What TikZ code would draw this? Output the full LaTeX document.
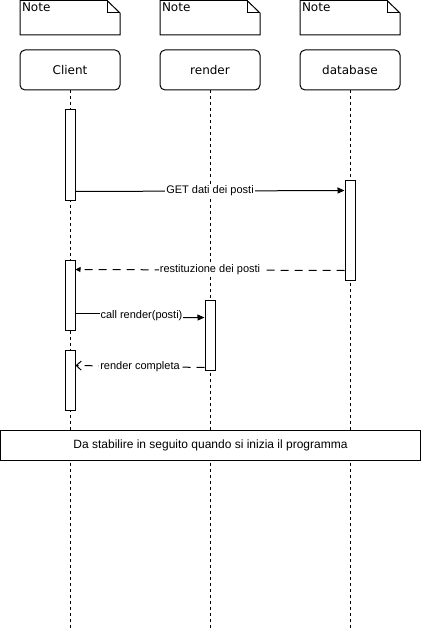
\documentclass[tikz,border=0pt]{standalone}
\usepackage{fontspec}
\setmainfont{Liberation Sans}
\newfontfamily\dvs{DejaVu Sans}
\usetikzlibrary{arrows.meta,calc}
\tikzset{
  notetext/.style={anchor=base west,inner sep=0pt,font=\dvs\fontsize{12}{14}\selectfont},
  participant/.style={draw,rounded corners=5pt,minimum width=100pt,minimum height=40pt,inner sep=0pt,font=\dvs\fontsize{12}{14}\selectfont,fill=white},
  lifeline/.style={line width=1pt,dash pattern=on 3pt off 3pt},
  activation/.style={draw,fill=white,minimum width=10pt,inner sep=0pt},
  msglabel/.style={fill=white,inner sep=1pt,font=\fontsize{11}{13}\selectfont},
  msg/.style={line width=1pt,-{Triangle[length=7pt,width=6pt]}},
  retmsg/.style={line width=1pt,dash pattern=on 8pt off 6pt,-{Triangle[length=5pt,width=5pt]}},
  openret/.style={line width=1pt,dash pattern=on 8pt off 6pt,-{Straight Barb[length=5pt,width=9pt]}},
}
\begin{document}
\begin{tikzpicture}[x=1pt,y=-1pt,line width=1pt]
\useasboundingbox (0,0) rectangle (421,631);
% notes
\foreach \x/\n in {20/n1,160/n2,300/n3}{
  \draw (\x,0.5) -- (\x+87,0.5) -- (\x+100,13) -- (\x+100,35) -- (\x,35) -- cycle;
  \draw (\x+87,0.5) -- (\x+87,13) -- (\x+100,13);
  \node[notetext] (\n) at (\x+1.5,12) {Note};
}
% lifelines
\coordinate (e1) at (70,631);
\coordinate (e2) at (210,631);
\coordinate (e3) at (350,631);
\node[participant] (p1) at (70,70) {Client};
\node[participant] (p2) at (210,70) {render};
\node[participant] (p3) at (350,70) {database};
\draw[lifeline] (p1.south) -- (e1);
\draw[lifeline] (p2.south) -- (e2);
\draw[lifeline] (p3.south) -- (e3);
% activations
\node[activation,minimum height=90pt] (a1) at (70,155) {};
\node[activation,minimum height=100pt] (a3) at (350,230) {};
\node[activation,minimum height=70pt] (a2) at (70,295) {};
\node[activation,minimum height=70pt] (r1) at (210,335) {};
\node[activation,minimum height=60pt] (a4) at (70,380) {};
% messages
\draw[msg] ([yshift=9pt]a1.south east) -- node[msglabel] (l1) {GET dati dei posti} ([yshift=-11pt]a3.north west);
\draw[retmsg] ([yshift=10pt]a3.south west) -- node[msglabel] (l2) {restituzione dei posti} ([yshift=-10pt]a2.north east);
\coordinate (c1) at (75,313);
\coordinate (c2) at (140,313);
\coordinate (c3) at (140,318);
\draw[line width=1pt] (c1) -- (c2) -- (c3);
\draw[msg] (c3) -- ([yshift=-18pt]r1.north west);
\node[msglabel,anchor=west] (l3) at (99,316) {call render(posti)};
\draw[openret] ([yshift=3pt]r1.south west) -- node[msglabel] (l4) {render completa} ([yshift=-16pt]a4.north east);
% bottom box
\node[draw,fill=white,minimum width=420pt,minimum height=30pt,inner sep=0pt,font=\fontsize{12}{14}\selectfont] (b) at (210.5,445) {Da stabilire in seguito quando si inizia il programma};
\end{tikzpicture}
\end{document}
